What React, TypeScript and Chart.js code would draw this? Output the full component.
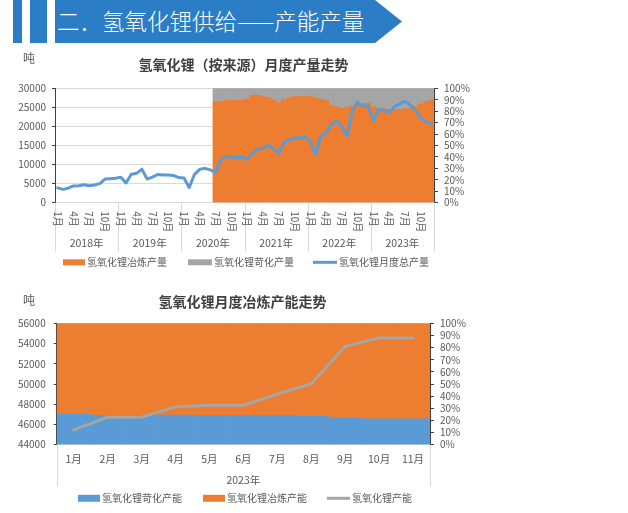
import React, { useEffect, useRef } from 'react';
import { Chart, registerables } from 'chart.js';

Chart.register(...registerables);

const FONT = '"Noto Sans CJK SC", "Noto Sans", "DejaVu Sans", sans-serif';

const bannerTitle = '二．氢氧化锂供给——产能产量';
const unitLabel = '吨';

// ---------- Chart 1 ----------
const chart1Title = '氢氧化锂（按来源）月度产量走势';
const years1 = ['2018年', '2019年', '2020年', '2021年', '2022年', '2023年'];
const monthNames = ['1月', '2月', '3月', '4月', '5月', '6月', '7月', '8月', '9月', '10月', '11月', '12月'];
const series1Names = ['氢氧化锂冶炼产量', '氢氧化锂苛化产量', '氢氧化锂月度总产量'];

const totalOutput1 = [
  3900, 3500, 3800, 4400, 4450, 4700, 4450, 4650, 5000, 6200, 6300, 6400,
  6700, 5200, 7450, 7700, 8800, 6200, 6700, 7400, 7250, 7250, 7150, 6600,
  6500, 4000, 7450, 8750, 9000, 8600, 7950, 11200, 12150, 12000, 11800, 11900,
  11450, 12800, 14100, 14350, 15100, 14150, 12800, 15750, 16450, 16950, 17000, 17200,
  16300, 12700, 17500, 18350, 20600, 21400, 19900, 17500, 24300, 26300, 25350, 25350,
  21500, 24500, 24150, 23700, 25200, 25900, 26650, 25600, 24300, 22100, 21250, 20650,
];

const smeltShare1 = [
  null, null, null, null, null, null, null, null, null, null, null, null,
  null, null, null, null, null, null, null, null, null, null, null, null,
  null, null, null, null, null, null, 88.3, 88.3, 89.2, 89.2, 89.5, 89.8,
  90.6, 94.1, 94.1, 93.3, 92.1, 90.0, 87.2, 90.1, 91.5, 92.7, 92.7, 92.7,
  92.7, 91.2, 90.6, 89.2, 85.4, 83.9, 82.5, 83.4, 85.0, 86.3, 86.9, 86.9,
  83.9, 82.5, 82.0, 81.3, 81.3, 81.6, 81.9, 82.5, 84.0, 86.3, 88.3, 89.8,
];

const causticShare1 = [
  null, null, null, null, null, null, null, null, null, null, null, null,
  null, null, null, null, null, null, null, null, null, null, null, null,
  null, null, null, null, null, null, 11.7, 11.7, 10.8, 10.8, 10.5, 10.2,
  9.4, 5.9, 5.9, 6.7, 7.9, 10.0, 12.8, 9.9, 8.5, 7.3, 7.3, 7.3,
  7.3, 8.8, 9.4, 10.8, 14.6, 16.1, 17.5, 16.6, 15.0, 13.7, 13.1, 13.1,
  16.1, 17.5, 18.0, 18.7, 18.7, 18.4, 18.1, 17.5, 16.0, 13.7, 11.7, 10.2,
];

// ---------- Chart 2 ----------
const chart2Title = '氢氧化锂月度冶炼产能走势';
const year2 = '2023年';
const months2 = ['1月', '2月', '3月', '4月', '5月', '6月', '7月', '8月', '9月', '10月', '11月'];
const series2Names = ['氢氧化锂苛化产能', '氢氧化锂冶炼产能', '氢氧化锂产能'];
const causticCapShare = [25.0, 24.2, 24.2, 24.5, 24.2, 24.2, 24.2, 23.6, 22.0, 21.4, 21.4];
const smeltCapShare = [75.0, 75.8, 75.8, 75.5, 75.8, 75.8, 75.8, 76.4, 78.0, 78.6, 78.6];
const totalCapacity = [45460, 46720, 46720, 47740, 47900, 47900, 49000, 50020, 53720, 54550, 54550];

const ORANGE = '#ED7D31';
const GRAY = '#A5A5A5';
const BLUE = '#5B9BD5';
const TICK = '#595959';
const AXIS = '#404040';
const GRID = '#D9D9D9';

type LegendItem = { kind: 'rect' | 'line'; color: string; x: number; w: number; h: number; text: string };

function drawLegend(ctx: CanvasRenderingContext2D, items: LegendItem[], y: number) {
  ctx.font = `10px ${FONT}`;
  ctx.textBaseline = 'middle';
  ctx.textAlign = 'left';
  items.forEach((it) => {
    if (it.kind === 'rect') {
      ctx.fillStyle = it.color;
      ctx.fillRect(it.x, y - it.h / 2, it.w, it.h);
    } else {
      ctx.strokeStyle = it.color;
      ctx.lineWidth = 3;
      ctx.beginPath();
      ctx.moveTo(it.x, y);
      ctx.lineTo(it.x + it.w, y);
      ctx.stroke();
    }
    ctx.fillStyle = TICK;
    ctx.fillText(it.text, it.x + it.w + 2, y);
  });
}

function vline(ctx: CanvasRenderingContext2D, x: number, y0: number, y1: number) {
  const xx = Math.round(x) + 0.5;
  ctx.beginPath();
  ctx.moveTo(xx, y0);
  ctx.lineTo(xx, y1);
  ctx.stroke();
}

const chart1Decor = {
  id: 'chart1Decor',
  afterDraw(chart: any) {
    const { ctx, chartArea } = chart;
    const xs = chart.scales.x;
    const step = xs.getPixelForValue(1) - xs.getPixelForValue(0);
    const bound = (i: number) => xs.getPixelForValue(0) - step / 2 + i * step;
    ctx.save();
    ctx.fillStyle = AXIS;
    ctx.font = `bold 14px ${FONT}`;
    ctx.textAlign = 'center';
    ctx.textBaseline = 'middle';
    ctx.fillText(chart1Title, 243.5, 17);
    ctx.fillStyle = TICK;
    ctx.font = `12px ${FONT}`;
    ctx.textAlign = 'left';
    ctx.fillText(unitLabel, 23, 10);
    ctx.strokeStyle = GRID;
    ctx.lineWidth = 1;
    for (let y = 0; y <= years1.length; y++) {
      vline(ctx, bound(y * 12), chartArea.bottom, chartArea.bottom + 49);
    }
    ctx.fillStyle = TICK;
    ctx.font = `10px ${FONT}`;
    const labels = xs.getLabels();
    labels.forEach((lab: string, i: number) => {
      if (i % 3 !== 0) return;
      const m = monthNames[i % 12];
      ctx.save();
      ctx.translate(xs.getPixelForValue(i), chartArea.bottom + 8.5);
      ctx.rotate(Math.PI / 2);
      ctx.textAlign = 'left';
      ctx.textBaseline = 'middle';
      ctx.fillText(m, 0, 0);
      ctx.restore();
    });
    ctx.font = `10.5px ${FONT}`;
    ctx.textAlign = 'center';
    ctx.textBaseline = 'middle';
    years1.forEach((yl, y) => {
      ctx.fillText(yl, (bound(y * 12) + bound(y * 12 + 12)) / 2, chartArea.bottom + 40.6);
    });
    const ds = chart.data.datasets;
    drawLegend(ctx, [
      { kind: 'rect', color: ORANGE, x: 63, w: 22, h: 6, text: ds[1].label },
      { kind: 'rect', color: GRAY, x: 188, w: 24, h: 6, text: ds[2].label },
      { kind: 'line', color: BLUE, x: 313, w: 24, h: 3, text: ds[0].label },
    ], 214.3);
    ctx.restore();
  },
};

const chart2Decor = {
  id: 'chart2Decor',
  afterDraw(chart: any) {
    const { ctx, chartArea } = chart;
    ctx.save();
    ctx.fillStyle = AXIS;
    ctx.font = `bold 14px ${FONT}`;
    ctx.textAlign = 'center';
    ctx.textBaseline = 'middle';
    ctx.fillText(chart2Title, 242.5, 19.7);
    ctx.fillStyle = TICK;
    ctx.font = `12px ${FONT}`;
    ctx.textAlign = 'left';
    ctx.fillText(unitLabel, 23, 18);
    ctx.strokeStyle = GRID;
    ctx.lineWidth = 1;
    vline(ctx, chartArea.left, chartArea.bottom, chartArea.bottom + 42);
    vline(ctx, chartArea.right, chartArea.bottom, chartArea.bottom + 42);
    ctx.fillStyle = TICK;
    ctx.font = `10.5px ${FONT}`;
    ctx.textAlign = 'center';
    ctx.fillText(year2, (chartArea.left + chartArea.right) / 2, 198);
    const ds = chart.data.datasets;
    drawLegend(ctx, [
      { kind: 'rect', color: BLUE, x: 78, w: 22, h: 7, text: ds[1].label },
      { kind: 'rect', color: ORANGE, x: 203, w: 22, h: 7, text: ds[2].label },
      { kind: 'line', color: GRAY, x: 327, w: 23, h: 3, text: ds[0].label },
    ], 216.3);
    ctx.restore();
  },
};

const plainNum = (v: any) => String(v);
const pct = (v: any) => `${v}%`;

function config1(): any {
  const labels = years1.flatMap((y) => monthNames.map((m) => `${y}${m}`));
  return {
    type: 'bar',
    data: {
      labels,
      datasets: [
        {
          type: 'line', label: series1Names[2], data: totalOutput1, yAxisID: 'y', order: 0,
          borderColor: BLUE, backgroundColor: BLUE, borderWidth: 3, pointRadius: 0,
          borderJoinStyle: 'round', borderCapStyle: 'round', fill: false, tension: 0,
        },
        {
          type: 'bar', label: series1Names[0], data: smeltShare1, yAxisID: 'y1', order: 1,
          backgroundColor: ORANGE, borderWidth: 0, categoryPercentage: 1, barPercentage: 1,
        },
        {
          type: 'bar', label: series1Names[1], data: causticShare1, yAxisID: 'y1', order: 2,
          backgroundColor: GRAY, borderWidth: 0, categoryPercentage: 1, barPercentage: 1,
        },
      ],
    },
    options: {
      responsive: false,
      animation: false,
      devicePixelRatio: 1,
      layout: { padding: { left: 0, right: 154, top: 40.3, bottom: 24.3 } },
      plugins: { legend: { display: false }, title: { display: false }, tooltip: { enabled: false } },
      scales: {
        x: {
          stacked: true,
          offset: true,
          ticks: { display: false },
          grid: { display: false, drawTicks: false },
          border: { display: true, color: GRID, width: 1 },
          afterFit: (s: any) => { s.height = 49; },
        },
        y: {
          position: 'left',
          min: 0, max: 30000,
          ticks: { stepSize: 5000, autoSkip: false, color: TICK, font: { size: 10, family: FONT }, padding: 6, callback: plainNum },
          grid: { color: GRID, tickColor: AXIS, tickLength: 3 },
          border: { color: AXIS, width: 1 },
          afterFit: (s: any) => { s.width = 55; },
        },
        y1: {
          position: 'right',
          stacked: true,
          min: 0, max: 100,
          ticks: { stepSize: 10, autoSkip: false, color: TICK, font: { size: 10, family: FONT }, padding: 6, callback: pct },
          grid: { drawOnChartArea: false, tickColor: AXIS, tickLength: 4 },
          border: { color: AXIS, width: 1 },
          afterFit: (s: any) => { s.width = 40; },
        },
      },
    },
    plugins: [chart1Decor],
  };
}

function config2(): any {
  return {
    type: 'bar',
    data: {
      labels: months2,
      datasets: [
        {
          type: 'line', label: series2Names[2], data: totalCapacity, yAxisID: 'y', order: 0,
          borderColor: GRAY, backgroundColor: GRAY, borderWidth: 3, pointRadius: 0,
          borderJoinStyle: 'round', borderCapStyle: 'round', fill: false, tension: 0,
        },
        {
          type: 'bar', label: series2Names[0], data: causticCapShare, yAxisID: 'y1', order: 1,
          backgroundColor: BLUE, borderWidth: 0, categoryPercentage: 1, barPercentage: 1,
        },
        {
          type: 'bar', label: series2Names[1], data: smeltCapShare, yAxisID: 'y1', order: 2,
          backgroundColor: ORANGE, borderWidth: 0, categoryPercentage: 1, barPercentage: 1,
        },
      ],
    },
    options: {
      responsive: false,
      animation: false,
      devicePixelRatio: 1,
      layout: { padding: { left: 0, right: 154, top: 41.3, bottom: 26.3 } },
      plugins: { legend: { display: false }, title: { display: false }, tooltip: { enabled: false } },
      scales: {
        x: {
          stacked: true,
          offset: true,
          ticks: { color: TICK, font: { size: 10.5, family: FONT }, padding: 8, maxRotation: 0, autoSkip: false },
          grid: { display: false, drawTicks: false },
          border: { display: true, color: GRID, width: 1 },
          afterFit: (s: any) => { s.height = 42; },
        },
        y: {
          position: 'left',
          min: 44000, max: 56000,
          ticks: { stepSize: 2000, autoSkip: false, color: TICK, font: { size: 10, family: FONT }, padding: 8, callback: plainNum },
          grid: { color: GRID, tickColor: AXIS, tickLength: 3 },
          border: { color: AXIS, width: 1 },
          afterFit: (s: any) => { s.width = 56.7; },
        },
        y1: {
          position: 'right',
          stacked: true,
          min: 0, max: 100,
          ticks: { stepSize: 10, autoSkip: false, color: TICK, font: { size: 10, family: FONT }, padding: 6, callback: pct },
          grid: { drawOnChartArea: false, tickColor: AXIS, tickLength: 4 },
          border: { color: AXIS, width: 1 },
          afterFit: (s: any) => { s.width = 44; },
        },
      },
    },
    plugins: [chart2Decor],
  };
}

function ChartCanvas({ make, top, height }: { make: () => any; top: number; height: number }) {
  const ref = useRef<HTMLCanvasElement | null>(null);
  useEffect(() => {
    const chart = new Chart(ref.current as HTMLCanvasElement, make());
    return () => chart.destroy();
  }, [make]);
  return (
    <canvas
      ref={ref}
      width={628}
      height={height}
      style={{ position: 'absolute', left: 0, top, width: 628, height, display: 'block' }}
    />
  );
}

const BANNER = '#2B7EC5';

export default function App() {
  return (
    <div style={{ position: 'absolute', left: 0, top: 0, width: 628, height: 513, background: '#fff', overflow: 'hidden' }}>
      <div style={{ position: 'absolute', left: 13, top: 0, width: 9, height: 43, background: BANNER }} />
      <div style={{ position: 'absolute', left: 30, top: 0, width: 17, height: 43, background: BANNER }} />
      <div
        style={{
          position: 'absolute', left: 55, top: 0, width: 347, height: 43, background: BANNER,
          clipPath: 'polygon(0 0, 320px 0, 347px 21.5px, 320px 43px, 0 43px)',
        }}
      />
      <div
        style={{
          position: 'absolute', left: 57, top: 0, height: 40, lineHeight: '40px', color: '#fff',
          fontFamily: FONT, fontSize: 22.5, fontWeight: 300, whiteSpace: 'nowrap',
        }}
      >
        {bannerTitle}
      </div>
      <ChartCanvas make={config1} top={48} height={228} />
      <ChartCanvas make={config2} top={282} height={231} />
    </div>
  );
}
